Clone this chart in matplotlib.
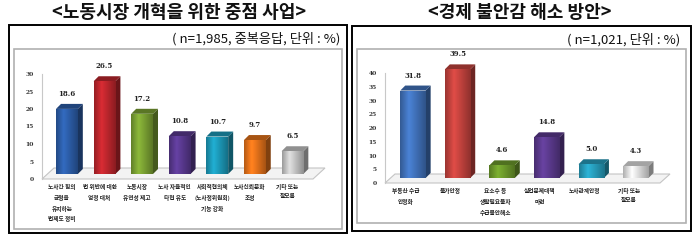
import matplotlib
matplotlib.use('Agg')
import matplotlib.pyplot as plt
from matplotlib.patches import Polygon, Rectangle
from matplotlib.colors import to_rgb
import numpy as np

plt.rcParams['font.family'] = ['Noto Sans CJK KR', 'DejaVu Sans']

# ---- data -------------------------------------------------------------
left_title = '<노동시장 개혁을 위한 중점 사업>'
left_note = '( n=1,985, 중복응답, 단위 : %)'
left_cats = ['노사간 힘의\n균형을\n유지하는\n법제도 정비',
             '법 위반에 대한\n엄정 대처',
             '노동시장\n유연성 제고',
             '노사 자율적인\n타협 유도',
             '사회적협의체\n(노사정위원회)\n기능 강화',
             '노사신뢰문화\n조성',
             '기타 또는\n잘모름']
left_vals = [18.6, 26.5, 17.2, 10.8, 10.7, 9.7, 6.5]
left_ticks = [0, 5, 10, 15, 20, 25, 30]
left_colors = ['#2d5fab', '#c1272e', '#7da434', '#5b3a92', '#1d9cbc', '#e8741b', '#c8c8c8']

right_title = '<경제 불안감 해소 방안>'
right_note = '( n=1,021, 단위 : %)'
right_cats = ['부동산 수급\n안정화',
              '물가안정',
              '요소수 등\n생활필요물자\n수급불안해소',
              '실업문제대책\n마련',
              '노사관계안정',
              '기타 또는\n잘모름']
right_vals = [31.8, 39.5, 4.6, 14.8, 5.0, 4.3]
right_ticks = [0, 5, 10, 15, 20, 25, 30, 35, 40]
right_colors = ['#4274be', '#c7443f', '#6f9d2c', '#5d3b90', '#28a0bf', '#e2e2e2']

# ---- figure -----------------------------------------------------------
W, H = 700, 243
fig = plt.figure(figsize=(W / 100, H / 100), dpi=100)
fig.patch.set_facecolor('white')


def fx(px):
    return px / W


def fy(py):
    return 1 - py / H


def frame(x0, y0, x1, y1, **kw):
    fig.patches.append(Rectangle((fx(x0), fy(y1)), fx(x1) - fx(x0), fy(y0) - fy(y1),
                                 transform=fig.transFigure, fill=False, **kw))


def shade(c, f):
    r = np.clip(np.array(to_rgb(c)) * f, 0, 1)
    return tuple(r)


def panel(box, inner, title, title_xy, note, note_xy, axbox, xlim, ticks,
          cats, vals, colors, bar_w, shift, depth, floor_d):
    frame(*box, edgecolor='black', linewidth=1.4)
    frame(*inner, edgecolor='#b0b0b0', linewidth=1.2)
    fig.text(fx(title_xy[0]), fy(title_xy[1]), title, ha='center', va='center',
             fontsize=13, fontweight='bold', color='#111111')
    fig.text(fx(note_xy[0]), fy(note_xy[1]), note, ha='right', va='center',
             fontsize=9.5, color='#111111')

    ax_l, ax_t, ax_r, ax_b = axbox
    ax = fig.add_axes([fx(ax_l), fy(ax_b), fx(ax_r) - fx(ax_l), fy(ax_t) - fy(ax_b)])
    ymin, ymax = ticks[0], ticks[-1]
    ax.set_xlim(*xlim)
    ax.set_ylim(ymin, ymax)
    ax.patch.set_visible(False)

    # pixel -> data unit conversion
    ux = (ax_r - ax_l) / (xlim[1] - xlim[0])
    uy = (ax_b - ax_t) / (ymax - ymin)
    sx, sy = shift[0] / ux, shift[1] / uy
    dx, dy = depth[0] / ux, depth[1] / uy
    fdx, fdy = floor_d[0] / ux, floor_d[1] / uy

    # floor plane
    floor = Polygon([(xlim[0], 0), (xlim[1], 0), (xlim[1] + fdx, fdy), (xlim[0] + fdx, fdy)],
                    closed=True, facecolor='#f3f3f3', edgecolor='#c4c4c4', linewidth=0.8,
                    zorder=1, clip_on=False)
    ax.add_patch(floor)

    xs = np.arange(len(vals))
    bars = ax.bar(xs + sx, vals, width=bar_w, bottom=sy, color=colors,
                  linewidth=0, zorder=3, clip_on=False)
    grad = np.concatenate([np.linspace(0.78, 1.12, 14), np.linspace(1.12, 0.72, 26)])
    for b, v, c in zip(bars, vals, colors):
        x0 = b.get_x()
        x1 = x0 + b.get_width()
        y0 = b.get_y()
        y1 = y0 + b.get_height()
        img = np.array([[shade(c, g) for g in grad]])
        im = ax.imshow(img, extent=(x0, x1, y0, y1), aspect='auto', zorder=3.1,
                       interpolation='bilinear')
        im.set_clip_path(b)
        side = Polygon([(x1, y0), (x1 + dx, y0 + dy), (x1 + dx, y1 + dy), (x1, y1)],
                       closed=True, facecolor=shade(c, 0.55), edgecolor='none', zorder=3,
                       clip_on=False)
        top = Polygon([(x0, y1), (x0 + dx, y1 + dy), (x1 + dx, y1 + dy), (x1, y1)],
                      closed=True, facecolor=shade(c, 0.72), edgecolor='none', zorder=3,
                      clip_on=False)
        ax.add_patch(side)
        ax.add_patch(top)
        ax.annotate(f'{v:.1f}', xy=((x0 + x1) / 2, y1), xytext=(0, 15 * 0.72),
                    textcoords='offset points', ha='center', va='center',
                    fontsize=5, fontweight='bold', color='#222222',
                    family=['DejaVu Serif'], annotation_clip=False)

    ax.set_xlim(*xlim)
    ax.set_ylim(ymin, ymax)
    ax.set_xticks([])
    ax.set_yticks(ticks)
    ax.set_yticklabels([str(t) for t in ticks], fontsize=4.3, fontweight='bold',
                       family=['DejaVu Serif'], color='#333333')
    ax.tick_params(axis='y', length=0, pad=6)
    for s in ('top', 'right', 'bottom'):
        ax.spines[s].set_visible(False)
    ax.spines['left'].set_color('#c8c8c8')
    ax.spines['left'].set_linewidth(0.8)

    for x, cat in zip(xs, cats):
        ax.annotate(cat, xy=(x, 0), xytext=(0, -5 * 0.72), textcoords='offset points',
                    ha='center', va='top', fontsize=4.1, fontweight='bold',
                    color='#222222', linespacing=1.95, annotation_clip=False)
    return ax


panel(box=(9, 25, 347, 233), inner=(14, 49, 342, 229),
      title=left_title, title_xy=(179, 13), note=left_note, note_xy=(340, 39),
      axbox=(42, 74, 313, 179), xlim=(-0.53, 6.68), ticks=left_ticks,
      cats=left_cats, vals=left_vals, colors=left_colors, bar_w=0.58,
      shift=(5, 5), depth=(5, 5), floor_d=(12, 11))

panel(box=(352, 26, 691, 231), inner=(357, 49, 686, 223),
      title=right_title, title_xy=(520, 13), note=right_note, note_xy=(680, 40),
      axbox=(385, 73, 660, 183), xlim=(-0.47, 5.7), ticks=right_ticks,
      cats=right_cats, vals=right_vals, colors=right_colors, bar_w=0.57,
      shift=(7, 5), depth=(5, 5), floor_d=(10, 9))

fig.savefig('out.png', dpi=100, facecolor='white')
